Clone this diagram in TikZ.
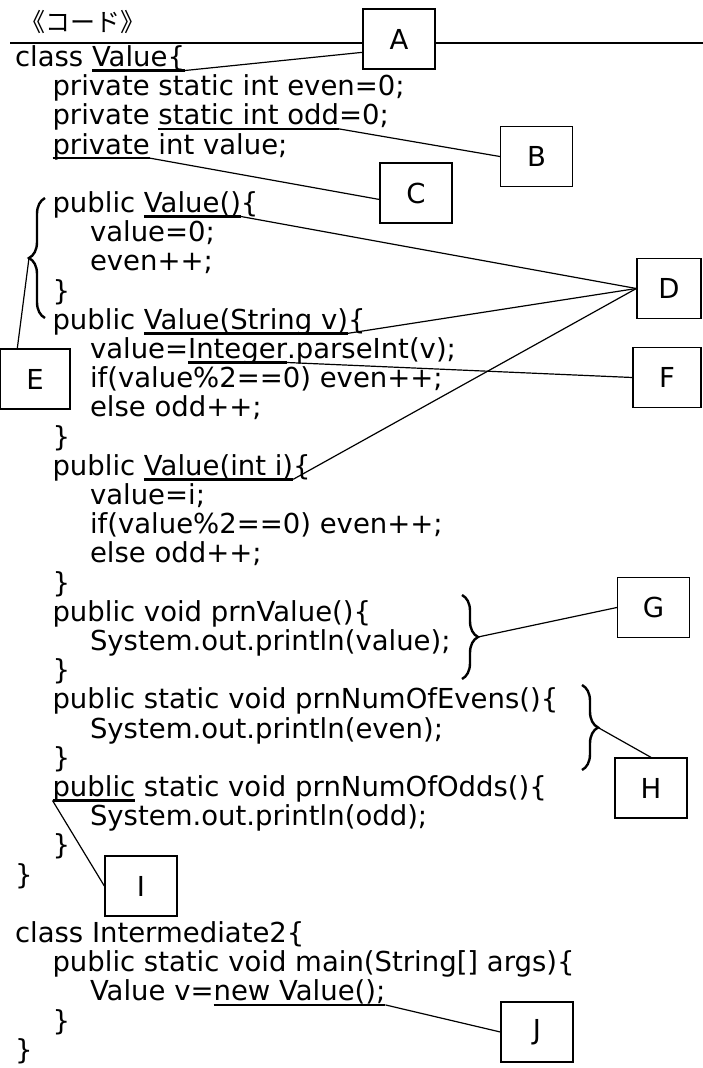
\documentclass[tikz,border=0pt]{standalone}
\usepackage{fontspec}
\setmainfont{DejaVu Sans}
\newfontfamily\jpfont{Noto Sans CJK JP}
\usetikzlibrary{decorations.pathreplacing}

\newcommand{\rowskip}{29.2}
\newcommand{\rowtop}{66.5}
\newcommand{\tabw}{37.5}
\newcommand{\undr}[1]{%
  \draw[uline] ([yshift=-4pt]#1.base west) coordinate (#1w)
    -- ([yshift=-4pt]#1.base east) coordinate (#1e);}

\tikzset{
  code/.style={anchor=base west, inner sep=0pt, outer sep=0pt,
    font=\fontsize{27.5}{29.2}\selectfont},
  uline/.style={line width=2.6pt},
  link/.style={line width=1.2pt},
  tagbox/.style={draw, fill=white, line width=1.3pt, inner sep=0pt,
    minimum width=72pt, minimum height=60pt,
    font=\fontsize{27.5}{29.2}\selectfont},
  curly/.style={decorate, decoration={brace, amplitude=16pt}, line width=2.4pt},
}

\begin{document}
\begin{tikzpicture}[x=1pt, y=-1pt]
  \useasboundingbox (0,0) rectangle (703,1068);

  \node[font=\jpfont\fontsize{25}{25}\selectfont] (title) at (83,22) {《コード》};
  \draw[line width=1.7pt] (10,43) -- (703,43);

  % labels
  \node[tagbox] (A) at (399,39) {A};
  \node[tagbox] (B) at (536.5,156.5) {B};
  \node[tagbox] (C) at (416,193) {C};
  \node[tagbox, minimum width=64pt] (D) at (669,288.5) {D};
  \node[tagbox, minimum width=70pt] (E) at (35,379) {E};
  \node[tagbox, minimum width=68pt] (F) at (667,377.5) {F};
  \node[tagbox] (G) at (653.5,607.5) {G};
  \node[tagbox] (H) at (651,788) {H};
  \node[tagbox] (I) at (141,886) {I};
  \node[tagbox] (J) at (537,1032) {J};

  % plain code lines: row/indent/text
  \foreach \k/\i/\t in {1/1/{private static int even=0;},
      6/2/{value=0;}, 7/2/{even++;}, 8/1/{\}},
      11/2/{if(value\%2==0) even++;}, 12/2/{else odd++;}, 13/1/{\}},
      15/2/{value=i;}, 16/2/{if(value\%2==0) even++;}, 17/2/{else odd++;}, 18/1/{\}},
      19/1/{public void prnValue()\{}, 20/2/{System.out.println(value);}, 21/1/{\}},
      22/1/{public static void prnNumOfEvens()\{}, 23/2/{System.out.println(even);}, 24/1/{\}},
      26/2/{System.out.println(odd);}, 27/1/{\}}, 28/0/{\}},
      30/0/{class Intermediate2\{}, 31/1/{public static void main(String[] args)\{},
      33/1/{\}}, 34/0/{\}}}
    \node[code] (r\k) at ({15+\tabw*\i},{\rowtop+\rowskip*\k}) {\t};

  % lines with an underlined part
  \node[code] (r0) at (15,\rowtop) {class\ \null};
  \node[code] (u0) at (r0.base east) {Value\{};
  \node[code] (r2) at (15+\tabw,\rowtop+\rowskip*2) {private\ \null};
  \node[code] (u2) at (r2.base east) {static int odd};
  \node[code] (s2) at (u2.base east) {=0;};
  \node[code] (u3) at (15+\tabw,\rowtop+\rowskip*3) {private};
  \node[code] (s3) at (u3.base east) {\ int value;};
  \node[code] (r5) at (15+\tabw,\rowtop+\rowskip*5) {public\ \null};
  \node[code] (u5) at (r5.base east) {Value()};
  \node[code] (s5) at (u5.base east) {\{};
  \node[code] (r9) at (15+\tabw,\rowtop+\rowskip*9) {public\ \null};
  \node[code] (u9) at (r9.base east) {Value(String v)};
  \node[code] (s9) at (u9.base east) {\{};
  \node[code] (r10) at (15+\tabw*2,\rowtop+\rowskip*10) {value=};
  \node[code] (u10) at (r10.base east) {Integer};
  \node[code] (s10) at (u10.base east) {.parseInt(v);};
  \node[code] (r14) at (15+\tabw,\rowtop+\rowskip*14) {public\ \null};
  \node[code] (u14) at (r14.base east) {Value(int i)};
  \node[code] (s14) at (u14.base east) {\{};
  \node[code] (u25) at (15+\tabw,\rowtop+\rowskip*25) {public};
  \node[code] (s25) at (u25.base east) {\ static void prnNumOfOdds()\{};
  \node[code] (r32) at (15+\tabw*2,\rowtop+\rowskip*32) {Value v=};
  \node[code] (u32) at (r32.base east) {new Value();};
  \foreach \u in {u0,u2,u3,u5,u9,u10,u14,u25,u32}
    {\undr{\u}}

  % braces
  \draw[curly] (45,318) -- (45,198);
  \coordinate (etip) at (29,258);
  \draw[curly] (462,595) -- (462,679);
  \coordinate (gtip) at (478,637);
  \draw[curly] (582,685) -- (582,770);
  \coordinate (htip) at (598,727.5);

  % connectors
  \draw[link] (u0e) -- (A.200);
  \draw[link] (u2e) -- (B.west);
  \draw[link] (u3e) -- (C.190);
  \foreach \u in {u5,u9,u14}
    \draw[link] (\u e) -- (D.west);
  \draw[link] (E.120) -- (etip);
  \draw[link] (u10e) -- (F.west);
  \draw[link] (gtip) -- (G.west);
  \draw[link] (htip) -- (H.north);
  \draw[link] (u25w) -- (I.west);
  \draw[link] (u32e) -- (J.west);
\end{tikzpicture}
\end{document}
